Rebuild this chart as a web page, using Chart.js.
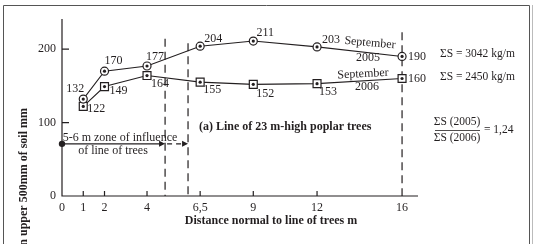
<!DOCTYPE html>
<html lang="en">
<head>
<meta charset="UTF-8">
<title>Soil water content near a line of poplar trees</title>
<script src="https://cdn.jsdelivr.net/npm/chart.js@4.4.1/dist/chart.umd.min.js"></script>
<style>
  html, body { margin: 0; padding: 0; background: #fff; }
  #wrap { position: relative; width: 534px; height: 244px; }
</style>
</head>
<body>
<div id="wrap"><canvas id="chart" width="534" height="244"></canvas></div>
<script>
// distances (m) normal to the line of trees
const distances = [1, 2, 4, 6.5, 9, 12, 16];
// water content in upper 500 mm of soil (mm)
const sept2005 = [132, 170, 177, 204, 211, 203, 190];
const sept2006 = [122, 149, 164, 155, 152, 153, 160];
const xTicks = [0, 1, 2, 4, 6.5, 9, 12, 16];
const yTicks = [0, 100, 200];
// dashed markers: zone of influence edges and last station
const zoneEdges = [4.85, 5.93];

const INK = '#231f20';
const SERIF = '"Liberation Serif", "DejaVu Serif", serif';

// label offsets (px) from each point
const off2005 = [[-8, -10], [9, -10], [8, -9], [13, -7], [12, -8], [14, -7], [15, 0]];
const off2006 = [[13, 2], [14, 4], [13, 8], [12, 8], [12, 9], [11, 8], [15, 0]];

function text(ctx, str, x, y, opts = {}) {
  ctx.save();
  ctx.font = (opts.bold ? 'bold ' : '') + (opts.size || 12) + 'px ' + SERIF;
  ctx.fillStyle = INK;
  ctx.textAlign = opts.align || 'center';
  ctx.textBaseline = 'middle';
  ctx.translate(x, y);
  if (opts.rot) ctx.rotate(opts.rot);
  ctx.fillText(str, 0, 0);
  ctx.restore();
}

function arrowHead(ctx, x, y) {
  ctx.beginPath();
  ctx.moveTo(x, y);
  ctx.lineTo(x - 6, y - 3);
  ctx.lineTo(x - 6, y + 3);
  ctx.closePath();
  ctx.fill();
}

const extras = {
  id: 'extras',
  beforeDatasetsDraw(chart) {
    const { ctx, chartArea: a, scales: { x, y } } = chart;
    ctx.save();
    ctx.strokeStyle = INK;
    ctx.fillStyle = INK;

    // page frame
    ctx.strokeStyle = '#555';
    ctx.lineWidth = 1;
    ctx.beginPath();
    ctx.moveTo(3.5, 244); ctx.lineTo(3.5, 5.5); ctx.lineTo(529.5, 5.5); ctx.lineTo(529.5, 244);
    ctx.stroke();
    ctx.strokeStyle = '#bbb';
    ctx.beginPath();
    ctx.moveTo(532.5, 5); ctx.lineTo(532.5, 244);
    ctx.stroke();

    // axes
    ctx.strokeStyle = INK;
    ctx.lineWidth = 1.2;
    ctx.beginPath();
    ctx.moveTo(a.left, a.top); ctx.lineTo(a.left, a.bottom); ctx.lineTo(a.right, a.bottom);
    ctx.stroke();
    // inward tick marks
    ctx.beginPath();
    xTicks.slice(1, -1).forEach(v => {
      const px = x.getPixelForValue(v);
      ctx.moveTo(px, a.bottom); ctx.lineTo(px, a.bottom - 5);
    });
    yTicks.slice(1).forEach(v => {
      const py = y.getPixelForValue(v);
      ctx.moveTo(a.left, py); ctx.lineTo(a.left + 7, py);
    });
    ctx.stroke();

    // dashed verticals
    ctx.setLineDash([8, 5]);
    [[zoneEdges[0], 214], [zoneEdges[1], 208], [16, 223]].forEach(([xv, top]) => {
      const px = x.getPixelForValue(xv);
      ctx.beginPath();
      ctx.moveTo(px, y.getPixelForValue(top));
      ctx.lineTo(px, a.bottom);
      ctx.stroke();
    });

    // zone of influence arrow
    const ay = y.getPixelForValue(71);
    const x0 = x.getPixelForValue(0);
    const x1 = x.getPixelForValue(zoneEdges[0]);
    const x2 = x.getPixelForValue(zoneEdges[1]);
    ctx.setLineDash([]);
    ctx.beginPath();
    ctx.moveTo(x0, ay); ctx.lineTo(x1 - 4, ay);
    ctx.stroke();
    arrowHead(ctx, x1, ay);
    ctx.setLineDash([5, 4]);
    ctx.beginPath();
    ctx.moveTo(x1 + 2, ay); ctx.lineTo(x2 - 4, ay);
    ctx.stroke();
    ctx.setLineDash([]);
    arrowHead(ctx, x2, ay);
    ctx.beginPath();
    ctx.arc(x0, ay, 3.2, 0, Math.PI * 2);
    ctx.fill();
    ctx.restore();

    text(ctx, '5-6 m zone of influence', 120, ay - 6);
    text(ctx, 'of line of trees', 113, ay + 7);
  },
  afterDatasetsDraw(chart) {
    const { ctx } = chart;
    // inner dots of markers and value labels
    [[sept2005, off2005], [sept2006, off2006]].forEach(([vals, offs], di) => {
      const meta = chart.getDatasetMeta(di);
      meta.data.forEach((pt, i) => {
        ctx.beginPath();
        ctx.fillStyle = INK;
        ctx.arc(pt.x, pt.y, 1.6, 0, Math.PI * 2);
        ctx.fill();
        text(ctx, String(vals[i]), pt.x + offs[i][0], pt.y + offs[i][1]);
      });
    });

    // series names
    text(ctx, 'September', 370, 43, { rot: 0.09 });
    text(ctx, '2005', 368, 58);
    text(ctx, 'September', 363, 74, { rot: -0.05 });
    text(ctx, '2006', 367, 87);

    // totals and ratio
    text(ctx, 'ΣS = 3042 kg/m', 440, 54, { align: 'left', size: 11.5 });
    text(ctx, 'ΣS = 2450 kg/m', 440, 77, { align: 'left', size: 11.5 });
    text(ctx, 'ΣS (2005)', 457, 122, { size: 11.5 });
    text(ctx, 'ΣS (2006)', 457, 138, { size: 11.5 });
    ctx.save();
    ctx.strokeStyle = INK;
    ctx.lineWidth = 0.8;
    ctx.beginPath();
    ctx.moveTo(435, 130.5); ctx.lineTo(480, 130.5);
    ctx.stroke();
    ctx.restore();
    text(ctx, '= 1,24', 484, 130, { align: 'left', size: 11.5 });

    // panel caption and axis titles
    text(ctx, '(a) Line of 23 m-high poplar trees', 199, 127, { bold: true, align: 'left' });
    text(ctx, 'Distance normal to line of trees m', 271, 221, { bold: true });
    text(ctx, 'Water content in upper 500mm of soil mm', 24, 108, { bold: true, align: 'right', rot: -Math.PI / 2 });
  }
};

const points = vals => distances.map((d, i) => ({ x: d, y: vals[i] }));

new Chart(document.getElementById('chart'), {
  type: 'line',
  data: {
    datasets: [
      {
        label: 'September 2005',
        data: points(sept2005),
        borderColor: INK,
        borderWidth: 1.1,
        pointStyle: 'circle',
        pointRadius: 4,
        pointBorderWidth: 1.2,
        pointBorderColor: INK,
        pointBackgroundColor: '#fff',
        tension: 0
      },
      {
        label: 'September 2006',
        data: points(sept2006),
        borderColor: INK,
        borderWidth: 1.1,
        pointStyle: 'rect',
        pointRadius: 5.6,
        pointBorderWidth: 1.2,
        pointBorderColor: INK,
        pointBackgroundColor: '#fff',
        tension: 0
      }
    ]
  },
  options: {
    responsive: false,
    animation: false,
    layout: { padding: { top: 19, right: 116, left: 0, bottom: 0 } },
    plugins: { legend: { display: false }, tooltip: { enabled: false } },
    scales: {
      x: {
        type: 'linear',
        min: 0,
        max: 16.75,
        grid: { display: false, drawTicks: false },
        border: { display: false },
        afterBuildTicks: s => { s.ticks = xTicks.map(v => ({ value: v })); },
        afterFit: s => { s.height = 48; },
        ticks: {
          padding: 5,
          maxRotation: 0,
          autoSkip: false,
          color: INK,
          font: { family: SERIF, size: 12 },
          callback: v => String(v).replace('.', ',')
        }
      },
      y: {
        min: 0,
        max: 241,
        grid: { display: false, drawTicks: false },
        border: { display: false },
        afterBuildTicks: s => { s.ticks = yTicks.map(v => ({ value: v })); },
        afterFit: s => { s.width = 62; },
        ticks: {
          padding: 6,
          color: INK,
          font: { family: SERIF, size: 12 }
        }
      }
    }
  },
  plugins: [extras]
});
</script>
</body>
</html>
